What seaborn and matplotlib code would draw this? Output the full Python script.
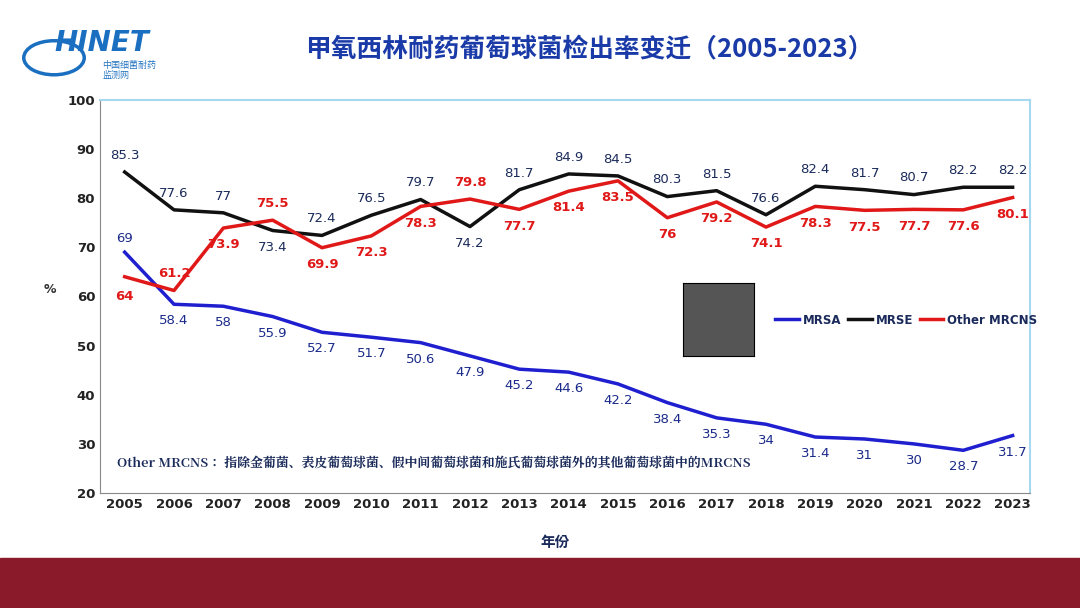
import pandas as pd
import matplotlib.pyplot as plt
import seaborn as sns
from matplotlib import font_manager
from matplotlib.patches import Rectangle

# pick installed CJK font files (sans for title, serif for footnote if available)
cjk_fonts = [f for f in font_manager.fontManager.ttflist if 'CJK' in f.name]


def pick(want_sans, want_bold):
    cands = sorted(cjk_fonts, key=lambda f: (
        ('Sans' in f.name) != want_sans,
        not f.name.endswith('SC'),
        (f.weight in (700, 'bold')) != want_bold))
    return font_manager.FontProperties(fname=cands[0].fname) if cands else font_manager.FontProperties()


CJK_SANS_BOLD = pick(True, True)
CJK_SANS = pick(True, False)
CJK_SERIF = pick(False, True)

years = list(range(2005, 2024))
mrsa = [69, 58.4, 58, 55.9, 52.7, 51.7, 50.6, 47.9, 45.2, 44.6, 42.2, 38.4, 35.3, 34, 31.4, 31, 30, 28.7, 31.7]
mrse = [85.3, 77.6, 77, 73.4, 72.4, 76.5, 79.7, 74.2, 81.7, 84.9, 84.5, 80.3, 81.5, 76.6, 82.4, 81.7, 80.7, 82.2, 82.2]
other = [64, 61.2, 73.9, 75.5, 69.9, 72.3, 78.3, 79.8, 77.7, 81.4, 83.5, 76, 79.2, 74.1, 78.3, 77.5, 77.7, 77.6, 80.1]
series_names = ['MRSA', 'MRSE', 'Other MRCNS']
colors = {'MRSA': '#1f1fd0', 'MRSE': '#111111', 'Other MRCNS': '#e01818'}
label_colors = {'MRSA': '#1a2a8a', 'MRSE': '#1a2a5a', 'Other MRCNS': '#e01818'}

df = pd.DataFrame({
    'year': years * 3,
    'rate': mrsa + mrse + other,
    'group': [n for n in series_names for _ in years],
})

fig = plt.figure(figsize=(10.8, 6.08), dpi=100)
ax = fig.add_axes([0.0926, 0.189, 0.861, 0.647])
sns.lineplot(data=df, x='year', y='rate', hue='group', palette=colors,
             linewidth=2.5, ax=ax, legend=True)

ax.set_xlim(2004.5, 2023.35)
ax.set_ylim(20, 100)
ax.set_xticks(years)
ax.set_yticks(range(20, 101, 10))
ax.tick_params(labelsize=9.5, colors='#222222', length=0)
for t in ax.get_xticklabels() + ax.get_yticklabels():
    t.set_fontweight('bold')
ax.set_xlabel('')
ax.set_ylabel('')
for s in ['top', 'right']:
    ax.spines[s].set_color('#a8d8f0')
    ax.spines[s].set_linewidth(1.5)
for s in ['left', 'bottom']:
    ax.spines[s].set_color('#888888')

# data labels
mrse_below = {2008, 2012}
other_above = {2006, 2008, 2012}
for y, a, b, c in zip(years, mrsa, mrse, other):
    off = 10 if y == 2005 else -12
    ax.annotate(f'{a:g}', (y, a), xytext=(0, off), textcoords='offset points',
                ha='center', va='center', fontsize=9.5, color=label_colors['MRSA'])
    off = -12 if y in mrse_below else 12
    ax.annotate(f'{b:g}', (y, b), xytext=(0, off), textcoords='offset points',
                ha='center', va='center', fontsize=9.5, color=label_colors['MRSE'])
    off = 12 if y in other_above else -12
    if y == 2005:
        off = -14
    ax.annotate(f'{c:g}', (y, c), xytext=(0, off), textcoords='offset points',
                ha='center', va='center', fontsize=9.5, color=label_colors['Other MRCNS'],
                fontweight='bold')

leg = ax.legend(loc='center left', bbox_to_anchor=(0.715, 0.44), ncol=3, frameon=False,
                fontsize=8.5, handlelength=2.0, columnspacing=0.6, handletextpad=0.3)
for t in leg.get_texts():
    t.set_fontweight('bold')
    t.set_color('#1a2a5a')

# QR placeholder
qr = fig.add_axes([0.632, 0.415, 0.066, 0.12])
qr.set_xticks([]); qr.set_yticks([])
qr.add_patch(Rectangle((0, 0), 1, 1, color='#555555'))
qr.set_xlim(0, 1); qr.set_ylim(0, 1)

fig.text(0.108, 0.232, 'Other MRCNS： 指除金葡菌、表皮葡萄球菌、假中间葡萄球菌和施氏葡萄球菌外的其他葡萄球菌中的MRCNS',
         fontsize=9.3, color='#1a2a5a', fontproperties=CJK_SERIF)
fig.text(0.04, 0.518, '%', fontsize=9, fontweight='bold', color='#333333')
fig.text(0.514, 0.1, '年份', fontsize=10.5, color='#1a2a5a', ha='center', fontproperties=CJK_SANS_BOLD)
fig.text(0.546, 0.92, '甲氧西林耐药葡萄球菌检出率变迁（2005-2023）', fontsize=18.5,
         color='#1a3aa8', ha='center', va='center', fontproperties=CJK_SANS_BOLD)

# logo
fig.text(0.05, 0.93, 'HINET', fontsize=20, fontweight='bold', fontstyle='italic', color='#1a6fc0', va='center')
fig.text(0.095, 0.9, '中国细菌耐药\n监测网', fontsize=6.5, color='#1a6fc0', va='top', fontproperties=CJK_SANS)
fig.add_artist(plt.Circle((0.05, 0.905), 0.028, transform=fig.transFigure,
                          facecolor='none', edgecolor='#1a6fc0', linewidth=2.5))

fig.add_artist(Rectangle((0, 0), 1, 0.082, transform=fig.transFigure, color='#8a1a2a'))

fig.savefig('out.png', dpi=100)
